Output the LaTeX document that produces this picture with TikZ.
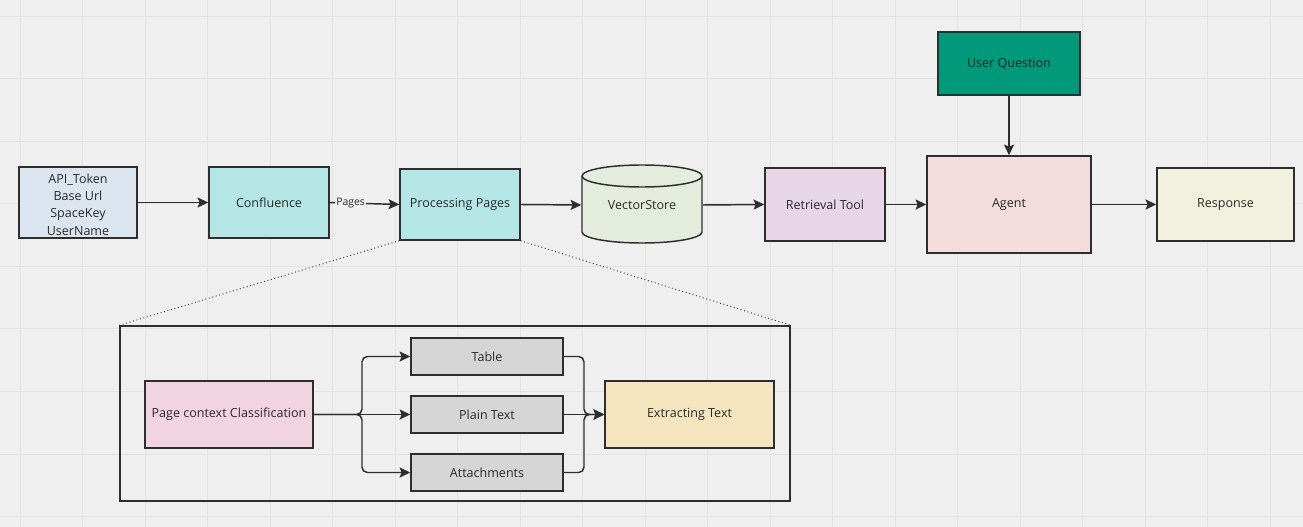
\documentclass[tikz,border=0pt]{standalone}
\usepackage{fontspec}
\setmainfont{Open Sans}
\usetikzlibrary{arrows.meta}
\definecolor{bgc}{HTML}{EFEFEF}
\definecolor{gridc}{HTML}{E3E3E3}
\definecolor{linec}{HTML}{2E2E2E}
\definecolor{txtc}{HTML}{2A2A2A}
\definecolor{credc}{HTML}{DAE5F0}
\definecolor{tealc}{HTML}{B4E6E5}
\definecolor{vsc}{HTML}{E4ECDD}
\definecolor{retc}{HTML}{E6D6E8}
\definecolor{agc}{HTML}{F3DCDC}
\definecolor{uqc}{HTML}{00997A}
\definecolor{resc}{HTML}{F2F1DE}
\definecolor{pccc}{HTML}{F1D4E0}
\definecolor{grayc}{HTML}{D5D5D5}
\definecolor{extc}{HTML}{F4E5BF}
\newcommand\boxnode[7]{\node[#6, minimum width={(#4-#2)*0.75pt}, minimum height={(#5-#3)*0.75pt}] (#1) at ({(#2+#4)/2},{(#3+#5)/2}) {#7};}
\tikzset{
  box/.style={draw=linec, line width=1.1pt, inner sep=0pt, text=txtc, font=\fontsize{9.4}{13}\selectfont, align=center},
  arr/.style={draw=linec, line width=1.1pt, -{Stealth[length=8pt,width=7.5pt,inset=1.5pt]}},
  plainline/.style={draw=linec, line width=1.1pt},
  zoomline/.style={draw=linec, line width=0.7pt, dotted},
}
\begin{document}
\begin{tikzpicture}[x=0.75pt,y=-0.75pt]
\useasboundingbox (0,0) rectangle (1303,527);
\fill[bgc] (0,0) rectangle (1303,527);
\foreach \i in {0,...,20} \draw[gridc, line width=0.75pt] ({20+62.5*\i},0) -- ++(0,527);
\foreach \j in {0,...,8} \draw[gridc, line width=0.75pt] (0,{16.5+62.5*\j}) -- ++(1303,0);

% top row
\boxnode{cred}{19}{167}{137}{238}{box, fill=credc}{\rule{0pt}{10pt}API\_Token\\Base Url\\SpaceKey\\UserName}
\boxnode{conf}{209}{167}{329}{238}{box, fill=tealc}{Confluence}
\boxnode{pp}{400}{169}{520}{240}{box, fill=tealc}{Processing Pages}
% vectorstore cylinder
\fill[vsc] (582,176) -- (582,232) arc[start angle=180,end angle=0,x radius=60,y radius=11] -- (702,176) arc[start angle=0,end angle=-180,x radius=60,y radius=11] -- cycle;
\draw[plainline] (582,176) -- (582,232) arc[start angle=180,end angle=0,x radius=60,y radius=11] -- (702,176) arc[start angle=0,end angle=-180,x radius=60,y radius=11] -- cycle;
\draw[plainline] (582,176) arc[start angle=180,end angle=0,x radius=60,y radius=11];
\boxnode{vs}{582}{167}{702}{243}{box, draw=none}{VectorStore}
\boxnode{ret}{765}{168}{885}{241}{box, fill=retc}{Retrieval Tool}
\boxnode{agent}{927}{156}{1091}{253}{box, fill=agc}{Agent}
\boxnode{uq}{938}{32}{1080}{95}{box, fill=uqc, text=black!85}{User Question}
\boxnode{resp}{1157}{168}{1294}{241}{box, fill=resc}{Response}

\draw[arr] (cred.east) -- (conf.west);
\draw[arr] (conf.east) -- node[pos=0.3, fill=bgc, inner sep=1pt, text=txtc, font=\fontsize{7.8}{9}\selectfont] {Pages} (pp.west);
\draw[arr] (pp.east) -- (vs.west);
\draw[arr] (vs.east) -- (ret.west);
\draw[arr] (ret.east) -- (ret.east -| agent.west);
\draw[arr] (agent.east) -- (agent.east -| resp.west);
\draw[arr] (uq.south) -- (agent.north);

% zoom box
\boxnode{big}{120}{326}{790}{501}{box}{}
\draw[zoomline] (pp.south west) -- (big.north west);
\draw[zoomline] (pp.south east) -- (big.north east);

\boxnode{pcc}{145}{381}{313}{448}{box, fill=pccc}{Page context Classification}
\boxnode{tab}{411}{338}{563}{375}{box, fill=grayc}{Table}
\boxnode{pt}{411}{396}{563}{433}{box, fill=grayc}{Plain Text}
\boxnode{att}{411}{454}{563}{491}{box, fill=grayc}{Attachments}
\boxnode{ext}{605}{381}{774}{448}{box, fill=extc}{Extracting Text}

\coordinate (br) at (362,414.5);
\coordinate (mg) at (584,414.5);
\draw[arr, rounded corners=4pt] (pcc.east) -- (br) |- (tab.west);
\draw[arr] (pcc.east) -- (pt.west);
\draw[arr, rounded corners=4pt] (pcc.east) -- (br) |- (att.west);
\draw[arr, rounded corners=4pt] (tab.east) -| (mg) -- (ext.west);
\draw[arr] (pt.east) -- (ext.west);
\draw[arr, rounded corners=4pt] (att.east) -| (mg) -- (ext.west);
\end{tikzpicture}
\end{document}
